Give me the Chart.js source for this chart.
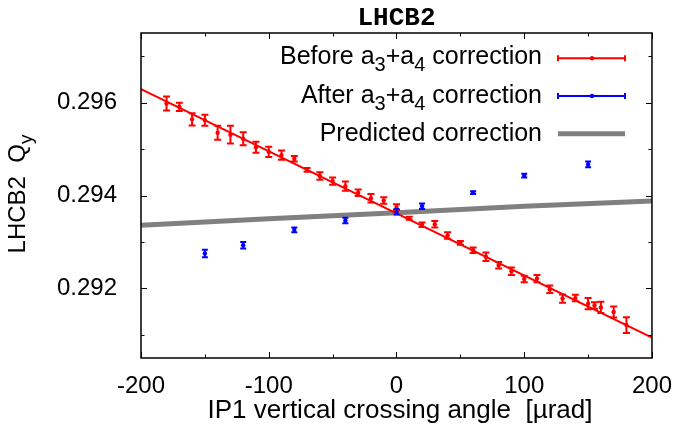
<!DOCTYPE html>
<html>
<head>
    <title>LHCB2 tune vs IP1 crossing angle</title>
    <script src="https://cdn.jsdelivr.net/npm/chart.js"></script>
    <style>
        body {
            margin: 0;
            background-color: #ffffff;
        }
        .chart-container {
            width: 678px;
            height: 434px;
        }
    </style>
</head>
<body>
    <div class="chart-container">
        <canvas id="tuneChart" width="678" height="434"></canvas>
    </div>

    <script>
        // Measured Qy before the a3+a4 correction (angle in urad)
        const beforeX = [-180, -170, -160, -150, -140, -130, -120, -110, -100, -90,
                         -80, -70, -60, -50, -40, -30, -20, -10, 0, 10,
                         20, 30, 40, 50, 60, 70, 80, 90, 100, 110,
                         120, 130, 140, 150, 155, 160, 170, 180];
        const beforeY = [0.29598, 0.29591, 0.29564, 0.29562, 0.29535, 0.29531, 0.29522, 0.29504, 0.29494, 0.29487,
                         0.29479, 0.29455, 0.29442, 0.29431, 0.29420, 0.29406, 0.29394, 0.29389, 0.29375, 0.29351,
                         0.29337, 0.29338, 0.29314, 0.29298, 0.29282, 0.29268, 0.29250, 0.29237, 0.29220, 0.29221,
                         0.29198, 0.29178, 0.29179, 0.29167, 0.29163, 0.29159, 0.29149, 0.29121];
        const beforeErr = [0.00015, 0.00009, 0.00013, 0.00012, 0.00015, 0.00019, 0.00014, 0.00012, 0.00011, 0.00010,
                           0.00006, 0.00004, 0.00008, 0.00008, 0.00010, 0.00007, 0.00009, 0.00007, 0.00006, 0.00003,
                           0.00005, 0.00007, 0.00007, 0.00004, 0.00006, 0.00009, 0.00007, 0.00008, 0.00007, 0.00008,
                           0.00008, 0.00009, 0.00007, 0.00012, 0.00007, 0.00012, 0.00012, 0.00017];

        // Linear fit through the "before" points
        const fitX = [-200, 200];
        const fitY = [0.29629, 0.29094];

        // Measured Qy after the correction
        const afterX = [-150, -120, -80, -40, 0, 20, 60, 100, 150];
        const afterY = [0.29275, 0.29293, 0.29326, 0.29346, 0.29365, 0.29377, 0.29406, 0.29443, 0.29467];
        const afterErr = [0.00008, 0.00007, 0.00005, 0.00006, 0.00006, 0.00006, 0.00003, 0.00004, 0.00006];

        // Expected Qy from the model
        const predX = [-200, -100, 0, 100, 200];
        const predY = [0.29336, 0.29350, 0.29363, 0.29377, 0.29388];

        const xTicks = [-200, -100, 0, 100, 200];
        const yTicks = [0.292, 0.294, 0.296];
        const xMinor = [-150, -50, 50, 150];
        const yMinor = [0.291, 0.293, 0.295, 0.297];

        // gnuplot-style text, "_X" is a one-char subscript
        const chartTitle = 'LHCB2';
        const xTitle = 'IP1 vertical crossing angle  [\u00b5rad]';
        const yTitle = 'LHCB2  Q_y';
        const legendLabels = ['Before a_3+a_4 correction', 'After a_3+a_4 correction', 'Predicted correction'];

        const FONT = '"Liberation Sans", Arial, sans-serif';

        const toPoints = (xs, ys) => xs.map((x, i) => ({ x: x, y: ys[i] }));

        function richParts(text) {
            return text.split(/(_.)/).filter(s => s).map(s =>
                s[0] === '_' ? { t: s[1], sub: true } : { t: s, sub: false });
        }

        function drawRich(ctx, text, x, y, align, size) {
            const parts = richParts(text);
            const fontOf = p => (p.sub ? Math.round(size * 0.8) : size) + 'px ' + FONT;
            let w = 0;
            parts.forEach(p => {
                ctx.font = fontOf(p);
                p.w = ctx.measureText(p.t).width;
                w += p.w;
            });
            let cx = align === 'right' ? x - w : (align === 'center' ? x - w / 2 : x);
            ctx.textAlign = 'left';
            ctx.textBaseline = 'alphabetic';
            parts.forEach(p => {
                ctx.font = fontOf(p);
                ctx.fillText(p.t, cx, p.sub ? y + size * 0.3 : y);
                cx += p.w;
            });
        }

        // Vertical error bars with caps
        const errorBars = {
            id: 'errorBars',
            afterDatasetsDraw(chart) {
                const ctx = chart.ctx;
                const xs = chart.scales.x, ys = chart.scales.y;
                chart.data.datasets.forEach(ds => {
                    if (!ds.errors) return;
                    ctx.save();
                    ctx.strokeStyle = ds.borderColor;
                    ctx.lineWidth = 2;
                    ds.data.forEach((p, i) => {
                        const px = xs.getPixelForValue(p.x);
                        const top = ys.getPixelForValue(p.y + ds.errors[i]);
                        const bot = ys.getPixelForValue(p.y - ds.errors[i]);
                        ctx.beginPath();
                        ctx.moveTo(px, top);
                        ctx.lineTo(px, bot);
                        ctx.moveTo(px - ds.capHalf, top);
                        ctx.lineTo(px + ds.capHalf, top);
                        ctx.moveTo(px - ds.capHalf, bot);
                        ctx.lineTo(px + ds.capHalf, bot);
                        ctx.stroke();
                    });
                    ctx.restore();
                });
            }
        };

        // Border box with inward ticks on all four sides
        const frame = {
            id: 'frame',
            afterDraw(chart) {
                const ctx = chart.ctx;
                const a = chart.chartArea;
                const xs = chart.scales.x, ys = chart.scales.y;
                ctx.save();
                ctx.strokeStyle = '#000000';
                ctx.lineWidth = 1;
                const tick = (vals, len, horiz) => {
                    vals.forEach(v => {
                        ctx.beginPath();
                        if (horiz) {
                            const px = Math.round(xs.getPixelForValue(v)) + 0.5;
                            ctx.moveTo(px, a.bottom); ctx.lineTo(px, a.bottom - len);
                            ctx.moveTo(px, a.top); ctx.lineTo(px, a.top + len);
                        } else {
                            const py = Math.round(ys.getPixelForValue(v)) + 0.5;
                            ctx.moveTo(a.left, py); ctx.lineTo(a.left + len, py);
                            ctx.moveTo(a.right, py); ctx.lineTo(a.right - len, py);
                        }
                        ctx.stroke();
                    });
                };
                tick(xTicks, 6, true);
                tick(xMinor, 3.5, true);
                tick(yTicks, 6, false);
                tick(yMinor, 3.5, false);
                ctx.lineWidth = 1.5;
                ctx.strokeRect(a.left, a.top, a.right - a.left, a.bottom - a.top);
                ctx.restore();
            }
        };

        // Legend in the top right corner, samples to the right of the text
        const legendBox = {
            id: 'legendBox',
            afterDraw(chart) {
                const ctx = chart.ctx;
                const lineY = [58.3, 96, 133.7];
                const x0 = 558, x1 = 625, xm = 592;
                ctx.save();
                ctx.fillStyle = '#000000';
                legendLabels.forEach((label, i) => {
                    drawRich(ctx, label, 542, lineY[i] + 5.5 + i, 'right', 25);
                });
                [['#ff0000', lineY[0]], ['#0000ff', lineY[1]]].forEach(([c, y]) => {
                    ctx.strokeStyle = c;
                    ctx.fillStyle = c;
                    ctx.lineWidth = 2;
                    ctx.beginPath();
                    ctx.moveTo(x0, y); ctx.lineTo(x1, y);
                    ctx.moveTo(x0, y - 3); ctx.lineTo(x0, y + 3);
                    ctx.moveTo(x1, y - 3); ctx.lineTo(x1, y + 3);
                    ctx.stroke();
                    ctx.beginPath();
                    ctx.arc(xm, y, 2.2, 0, Math.PI * 2);
                    ctx.fill();
                });
                ctx.strokeStyle = '#808080';
                ctx.lineWidth = 5;
                ctx.beginPath();
                ctx.moveTo(x0, lineY[2]); ctx.lineTo(x1, lineY[2]);
                ctx.stroke();
                ctx.restore();
            }
        };

        // Title and axis titles
        const labels = {
            id: 'labels',
            afterDraw(chart) {
                const ctx = chart.ctx;
                const a = chart.chartArea;
                ctx.save();
                ctx.fillStyle = '#000000';
                ctx.font = 'bold 26px "Liberation Mono", "Courier New", monospace';
                ctx.textAlign = 'center';
                ctx.textBaseline = 'alphabetic';
                ctx.fillText(chartTitle, (a.left + a.right) / 2, 25);
                drawRich(ctx, xTitle, 400, 418, 'center', 26);
                ctx.translate(25, 194);
                ctx.rotate(-Math.PI / 2);
                drawRich(ctx, yTitle, 0, 0, 'center', 24);
                ctx.restore();
            }
        };

        const ctx = document.getElementById('tuneChart').getContext('2d');
        const chart = new Chart(ctx, {
            type: 'scatter',
            data: {
                datasets: [{
                    label: 'Predicted correction',
                    data: toPoints(predX, predY),
                    showLine: true,
                    borderColor: '#808080',
                    borderWidth: 5,
                    pointRadius: 0,
                    order: 4
                }, {
                    label: 'Fit',
                    data: toPoints(fitX, fitY),
                    showLine: true,
                    borderColor: '#ff0000',
                    borderWidth: 2,
                    pointRadius: 0,
                    order: 3
                }, {
                    label: 'Before a3+a4 correction',
                    data: toPoints(beforeX, beforeY),
                    errors: beforeErr,
                    capHalf: 3.5,
                    borderColor: '#ff0000',
                    backgroundColor: '#ff0000',
                    pointRadius: 2.2,
                    pointBorderWidth: 0,
                    order: 2
                }, {
                    label: 'After a3+a4 correction',
                    data: toPoints(afterX, afterY),
                    errors: afterErr,
                    capHalf: 3,
                    borderColor: '#0000ff',
                    backgroundColor: '#0000ff',
                    pointRadius: 2.2,
                    pointBorderWidth: 0,
                    order: 1
                }]
            },
            options: {
                responsive: false,
                animation: false,
                layout: { padding: { top: 33, right: 23, left: 0, bottom: 0 } },
                plugins: {
                    legend: { display: false },
                    tooltip: { enabled: false }
                },
                scales: {
                    x: {
                        type: 'linear',
                        min: -200,
                        max: 200,
                        afterBuildTicks: s => { s.ticks = xTicks.map(v => ({ value: v })); },
                        afterFit: s => { s.height = 76; },
                        grid: { display: false },
                        border: { display: false },
                        ticks: {
                            color: '#000000',
                            font: { family: FONT, size: 24 },
                            padding: 6,
                            maxRotation: 0
                        }
                    },
                    y: {
                        min: 0.2905,
                        max: 0.2975,
                        afterBuildTicks: s => { s.ticks = yTicks.map(v => ({ value: v })); },
                        afterFit: s => { s.width = 141; },
                        grid: { display: false },
                        border: { display: false },
                        ticks: {
                            color: '#000000',
                            font: { family: FONT, size: 24 },
                            padding: 16,
                            callback: v => v.toFixed(3)
                        }
                    }
                }
            },
            plugins: [errorBars, frame, legendBox, labels]
        });
    </script>
</body>
</html>
